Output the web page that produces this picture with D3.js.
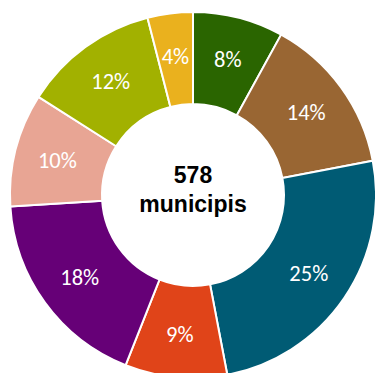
<!DOCTYPE html>
<html>
<head>
<meta charset="utf-8">
<script src="https://cdn.jsdelivr.net/npm/d3@7"></script>
<style>
  html, body { margin: 0; padding: 0; background: #fff; }
  svg { display: block; }
</style>
</head>
<body>
<svg id="chart" width="375" height="373"></svg>
<script>
// Share of municipalities per group, clockwise from 12 o'clock
const groups = ["A", "B", "C", "D", "E", "F", "G", "H"];
const shares = [8, 14, 25, 9, 18, 10, 12, 4];
const colors = ["#2a6500", "#996633", "#005b74", "#e04419", "#660077", "#e8a594", "#a2b100", "#eab11e"];
const totalLabel = ["578", "municipis"];

const svg = d3.select("#chart");
const cx = 193, cy = 195;
const outerR = 183, innerR = 91, labelR = 140;

const pie = d3.pie().value(d => d.v).sort(null);
const arcs = pie(groups.map((g, i) => ({ g, v: shares[i], c: colors[i] })));

const arc = d3.arc().innerRadius(innerR).outerRadius(outerR);
const labelArc = d3.arc().innerRadius(labelR).outerRadius(labelR);

const g = svg.append("g").attr("transform", `translate(${cx},${cy})`);

g.selectAll("path.slice")
  .data(arcs)
  .join("path")
  .attr("class", "slice")
  .attr("d", arc)
  .attr("fill", d => d.data.c)
  .attr("stroke", "#fff")
  .attr("stroke-width", 2);

g.selectAll("text.pct")
  .data(arcs)
  .join("text")
  .attr("class", "pct")
  .attr("transform", d => `translate(${labelArc.centroid(d)})`)
  .attr("text-anchor", "middle")
  .attr("dominant-baseline", "central")
  .attr("fill", "#fff")
  .style("font-family", "Carlito, Lato, 'Open Sans', sans-serif")
  .style("font-size", "22.5px")
  .text(d => d.data.v + "%");

const center = g.append("text")
  .attr("text-anchor", "middle")
  .attr("fill", "#000")
  .style("font-family", "'Liberation Sans', Arial, sans-serif")
  .style("font-weight", "bold")
  .style("font-size", "23px");
center.append("tspan").attr("x", 0).attr("y", -12).text(totalLabel[0]);
center.append("tspan").attr("x", 0).attr("y", 17).text(totalLabel[1]);
</script>
</body>
</html>
